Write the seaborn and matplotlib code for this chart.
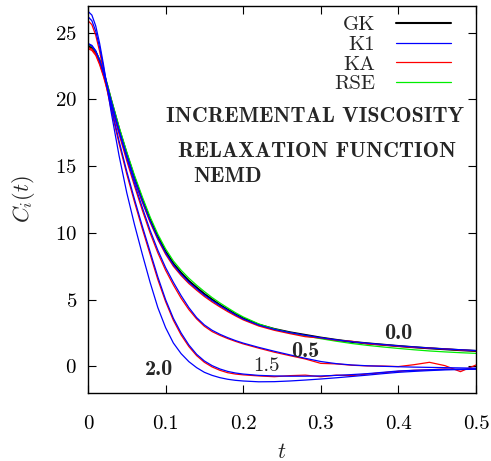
import numpy as np
import pandas as pd
import matplotlib
matplotlib.use("Agg")
import matplotlib.pyplot as plt
import seaborn as sns
from matplotlib.lines import Line2D

# ---------------- data ----------------
t = [0, .005, .01, .015, .02, .025, .03, .04, .05, .06, .07, .08, .09, .10, .11, .12, .13, .14, .15,
     .16, .17, .18, .19, .20, .22, .24, .26, .28, .30, .32, .34, .36, .38, .40, .42, .44, .46, .48, .50]

GK_00 = [24.0, 23.87, 23.5, 22.9, 22.0, 21.0, 19.9, 17.8, 15.9, 14.1, 12.5, 11.0, 9.7, 8.6, 7.7, 7.0, 6.4, 5.9, 5.42,
         5.0, 4.6, 4.25, 3.9, 3.6, 3.12, 2.8, 2.55, 2.35, 2.15, 1.98, 1.83, 1.72, 1.62, 1.52, 1.43, 1.35, 1.28, 1.21, 1.15]
RSE_00 = [24.1, 23.97, 23.6, 23.0, 22.1, 21.1, 20.0, 17.95, 16.05, 14.3, 12.7, 11.2, 9.9, 8.8, 7.9, 7.2, 6.6, 6.08, 5.6,
          5.15, 4.75, 4.38, 4.02, 3.7, 3.18, 2.8, 2.52, 2.28, 2.07, 1.88, 1.71, 1.57, 1.45, 1.34, 1.24, 1.15, 1.08, 1.02, 0.97]
K1_00 = [24.15, 24.0, 23.6, 22.9, 22.0, 20.95, 19.85, 17.7, 15.8, 14.0, 12.4, 10.9, 9.6, 8.5, 7.6, 6.9, 6.3, 5.8, 5.33,
         4.92, 4.55, 4.2, 3.86, 3.55, 3.09, 2.77, 2.53, 2.33, 2.14, 1.98, 1.84, 1.73, 1.63, 1.53, 1.45, 1.37, 1.3, 1.24, 1.18]
KA_00 = [23.9, 23.77, 23.4, 22.7, 21.8, 20.8, 19.7, 17.6, 15.7, 13.9, 12.3, 10.8, 9.5, 8.4, 7.5, 6.8, 6.2, 5.7, 5.23,
         4.82, 4.45, 4.1, 3.78, 3.48, 3.02, 2.7, 2.45, 2.22, 2.12, 1.95, 1.88, 1.68, 1.6, 1.5, 1.42, 1.36, 1.3, 1.22, 1.16]
K1_05 = [24.2, 24.05, 23.65, 22.95, 22.0, 20.9, 19.7, 17.6, 15.6, 13.7, 11.9, 10.2, 8.7, 7.4, 6.3, 5.3, 4.4, 3.65, 3.1,
         2.7, 2.4, 2.15, 1.93, 1.74, 1.42, 1.13, 0.86, 0.6, 0.36, 0.2, 0.1, 0.04, 0.0, -0.03, -0.06, -0.08, -0.1, -0.12, -0.14]
KA_05 = [23.8, 23.67, 23.3, 22.6, 21.7, 20.65, 19.5, 17.4, 15.4, 13.5, 11.7, 10.0, 8.5, 7.2, 6.1, 5.1, 4.25, 3.55, 3.0,
         2.6, 2.32, 2.08, 1.87, 1.68, 1.36, 1.06, 0.8, 0.55, 0.22, 0.18, 0.08, 0.03, 0.02, -0.02, 0.12, 0.3, 0.05, -0.4, 0.1]
K1_15 = [26.2, 25.9, 25.1, 23.9, 22.4, 20.9, 19.4, 16.9, 14.6, 12.5, 10.5, 8.6, 6.7, 5.0, 3.6, 2.5, 1.6, 0.9, 0.4,
         0.05, -0.2, -0.38, -0.5, -0.58, -0.68, -0.72, -0.74, -0.74, -0.72, -0.68, -0.62, -0.55, -0.45, -0.35, -0.3, -0.26, -0.23, -0.21, -0.2]
KA_15 = [25.9, 25.6, 24.8, 23.6, 22.1, 20.6, 19.2, 16.7, 14.4, 12.3, 10.3, 8.4, 6.5, 4.85, 3.45, 2.35, 1.48, 0.8, 0.3,
         -0.05, -0.3, -0.48, -0.58, -0.64, -0.72, -0.78, -0.7, -0.66, -0.78, -0.66, -0.7, -0.58, -0.48, -0.38, -0.3, -0.26, -0.2, -0.25, -0.18]
K1_20 = [26.6, 26.32, 25.5, 24.2, 22.6, 20.8, 19.0, 15.8, 13.0, 10.6, 8.4, 6.3, 4.4, 2.9, 1.75, 0.95, 0.35, -0.1, -0.45,
         -0.68, -0.85, -0.97, -1.05, -1.1, -1.16, -1.15, -1.1, -1.03, -0.95, -0.86, -0.76, -0.66, -0.55, -0.45, -0.38, -0.32, -0.27, -0.24, -0.22]

curves = [
    ("0.0", "GK", GK_00), ("0.0", "RSE", RSE_00), ("0.0", "KA", KA_00), ("0.0", "K1", K1_00),
    ("0.5", "KA", KA_05), ("0.5", "K1", K1_05),
    ("1.5", "KA", KA_15), ("1.5", "K1", K1_15),
    ("2.0", "K1", K1_20),
]
legend_labels = ["GK", "K1", "KA", "RSE"]
field_labels = ["2.0", "1.5", "0.5", "0.0"]
colors = {"GK": "#000000", "K1": "#0000ff", "KA": "#ff0000", "RSE": "#00ee00"}
widths = {"GK": 1.5, "K1": 0.9, "KA": 0.9, "RSE": 0.9}

rows = []
for field, method, vals in curves:
    for tt, v in zip(t, vals):
        rows.append({"t": tt, "C": v, "method": method, "field": field})
df = pd.DataFrame(rows)

# ---------------- style ----------------
sns.set_style("ticks")
plt.rcParams.update({
    "font.family": ["cmr10", "DejaVu Serif"],
    "mathtext.fontset": "cm",
    "axes.formatter.use_mathtext": True,
    "axes.linewidth": 1.0,
    "axes.edgecolor": "black",
})

fig = plt.figure(figsize=(4.91, 4.61), dpi=100)
ax = fig.add_axes([0.1792, 0.1475, 0.7902, 0.8395])

for method in ["GK", "RSE", "KA", "K1"]:
    sub = df[df["method"] == method]
    sns.lineplot(data=sub, x="t", y="C", units="field", estimator=None, sort=False,
                 color=colors[method], lw=widths[method], ax=ax, legend=False)

ax.set_xlim(0, 0.5)
ax.set_ylim(-2, 27)
ax.set_xticks([0, 0.1, 0.2, 0.3, 0.4, 0.5])
ax.set_xticklabels(["0", "0.1", "0.2", "0.3", "0.4", "0.5"])
ax.set_yticks([0, 5, 10, 15, 20, 25])
ax.tick_params(direction="in", length=6, width=0.8, top=True, right=True,
               labelsize=15, colors="black")
ax.tick_params(axis="x", pad=16)
ax.tick_params(axis="y", pad=8)
ax.set_xlabel("$t$", fontsize=16, labelpad=7)
ax.set_ylabel("$C_i(t)$", fontsize=16, labelpad=13)

handles = [Line2D([], [], color=colors[m], lw=widths[m]) for m in legend_labels]
ax.legend(handles, legend_labels, loc="upper right", bbox_to_anchor=(0.936, 0.975),
          frameon=False, markerfirst=False, fontsize=15, handlelength=2.65,
          handletextpad=1.0, labelspacing=0.05, borderpad=0, borderaxespad=0)

bold = ["cmb10", "DejaVu Serif"]
ax.text(0.2925, 18.7, "INCREMENTAL VISCOSITY", family=bold, fontsize=15.7, ha="center", va="center")
ax.text(0.295, 16.1, "RELAXATION FUNCTION", family=bold, fontsize=15.7, ha="center", va="center")
ax.text(0.18, 14.2, "NEMD", family=bold, fontsize=15.7, ha="center", va="center")

ax.text(0.0915, -0.26, field_labels[0], family=bold, fontsize=16, ha="center", va="center")
ax.text(0.23, 0.0, field_labels[1], family=["cmr10", "DejaVu Serif"], fontsize=15, ha="center", va="center")
ax.text(0.28, 1.09, field_labels[2], family=bold, fontsize=16, ha="center", va="center")
ax.text(0.40, 2.47, field_labels[3], family=bold, fontsize=16, ha="center", va="center")

sns.despine(ax=ax, top=False, right=False)
fig.savefig("out.png", dpi=100)
